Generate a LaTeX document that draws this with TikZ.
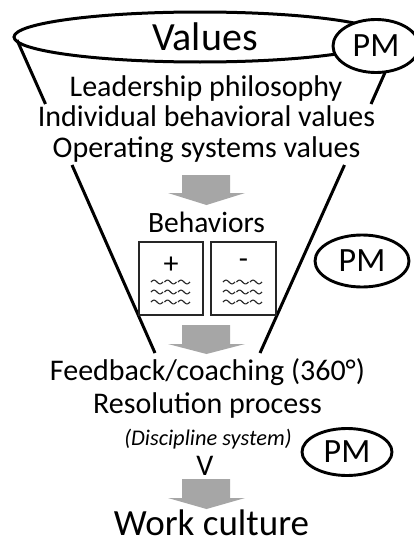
\documentclass[tikz,border=0pt]{standalone}
\usepackage{fontspec}
\setmainfont{Carlito}
\usetikzlibrary{shapes.geometric}
\begin{document}
\begin{tikzpicture}[x=1pt,y=-1pt,
  ink/.style={draw=black, line width=3pt},
  pm/.style={ellipse, draw=black, line width=2.9pt, fill=white, inner sep=0pt, text=black, font=\fontsize{34}{34}\selectfont},
  txt/.style={anchor=base, inner sep=0pt, font=\fontsize{30}{30}\selectfont, text=black},
  garrow/.style={fill=black!35, draw=none},
  bbox/.style={draw=black!85, line width=1.2pt, fill=white},
  squig/.style={draw=black!85, line width=1.1pt}
]
\useasboundingbox (0,0) rectangle (414,546);

% funnel (interrupted around the value lines)
\coordinate (fl1) at (17,40);
\coordinate (fl2) at (45.5,104);
\coordinate (fl3) at (72,165);
\coordinate (fl4) at (155,353);
\coordinate (fr1) at (387,68);
\coordinate (fr2) at (371,104);
\coordinate (fr3) at (344.5,165);
\coordinate (fr4) at (260,353);
\draw[ink] (fl1) -- (fl2);
\draw[ink] (fl3) -- (fl4);
\draw[ink] (fr1) -- (fr2);
\draw[ink] (fr3) -- (fr4);

% values ellipse
\draw[ink] (200,37) ellipse [x radius=186pt, y radius=25pt];
\node[txt, font=\fontsize{40}{40}\selectfont] (values) at (205,50) {Values};

% PM ellipses
\node[pm, minimum width=86pt, minimum height=53pt] (pm1) at (376,46) {PM};
\node[pm, minimum width=94pt, minimum height=52pt] (pm2) at (362,261) {PM};
\node[pm, minimum width=90pt, minimum height=47pt] (pm3) at (347,452) {PM};

% value lines
\node[txt] (lp) at (206,96) {Leadership philosophy};
\node[txt] (ibv) at (206.5,126) {Individual behavioral values};
\node[txt] (osv) at (206.5,157) {Operating systems values};

% gray arrows
\fill[garrow] (182,175) -- (230,175) -- (230,193) -- (245,193) -- (206.5,205) -- (168,193) -- (182,193) -- cycle;
\fill[garrow] (182,325) -- (230,325) -- (230,344) -- (245,344) -- (206.5,354) -- (168,344) -- (182,344) -- cycle;
\fill[garrow] (182,479) -- (230,479) -- (230,498) -- (245,498) -- (206.5,509) -- (168,498) -- (182,498) -- cycle;

% behaviors
\node[txt, font=\fontsize{29.5}{30}\selectfont] (beh) at (206.5,232) {Behaviors};
\draw[bbox] (139,242) rectangle (203,315);
\draw[bbox] (211,242) rectangle (276,315);
\node[anchor=center, inner sep=0pt, font=\fontsize{30}{30}\selectfont, text=black] (plus) at (171,265) {+};
\node[anchor=center, inner sep=0pt, font=\fontsize{30}{30}\selectfont, text=black] (minus) at (243.5,264) {-};
\foreach \yy in {282,292,302} {
  \foreach \xx in {151,164.5,178,223,236.5,250} {
    \draw[squig] plot[domain=0:12, samples=25, smooth] ({\x+\xx},{\yy-1.9*sin(\x*30)});
  }
}

% feedback
\node[txt] (fb) at (207.5,380) {Feedback/coaching (360°)};
\node[txt] (rp) at (207.5,413) {Resolution process};
\node[txt, font=\fontsize{22.4}{23}\itshape] (ds) at (208,445) {(Discipline system)};
\node[txt] (vv) at (205,475) {V};
\node[txt, font=\fontsize{37}{37}\selectfont] (wc) at (211.5,535) {Work culture};
\end{tikzpicture}
\end{document}
